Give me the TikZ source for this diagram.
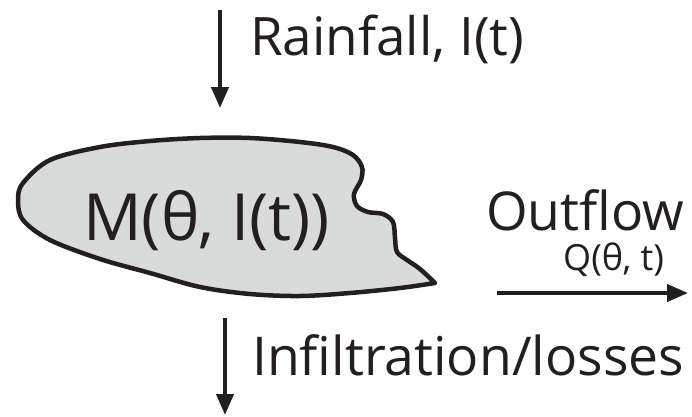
\documentclass[tikz,border=0pt]{standalone}
\usepackage{fontspec}
\setmainfont{Open Sans}
\usepackage{xcolor}
\usetikzlibrary{arrows.meta}

\definecolor{blobgray}{RGB}{217,218,218}
\definecolor{inkblack}{RGB}{35,31,32}

\tikzset{
  flowarrow/.style={draw=inkblack, line width=4pt, -{Triangle[length=21pt,width=17pt]}},
  flowlabel/.style={anchor=base west, inner sep=0pt, text=inkblack}
}

\begin{document}
\begin{tikzpicture}[x=1pt,y=-1pt]
    \useasboundingbox (0,0) rectangle (692,416);

    % Storage reservoir
    \draw[fill=blobgray, draw=inkblack, line width=4.5pt, line join=round]
      plot[smooth, tension=0.55] coordinates {
        (435,283) (400,288) (350,293) (300,296) (250,294) (200,287)
        (150,273) (100,259) (50,240) (23,220) (18,200) (23,183)
        (50,160) (100,147) (150,141) (200,138) (250,138) (300,142)
        (333,147) (353,155) (362,167) (361,180) (354,194) (357,206)
        (368,212) (383,214) (393,222) (395,238) (397,252) (407,260)
        (420,269) (435,283)} -- cycle;
    \node[flowlabel, font=\fontsize{65}{68}\selectfont] (storage) at (83,240) {M(θ, I(t))};

    % Rainfall input
    \coordinate (rainTop) at (220,10);
    \coordinate (rainTip) at (220,108);
    \draw[flowarrow] (rainTop) -- (rainTip);
    \node[flowlabel, font=\fontsize{53}{56}\selectfont] (rainfall) at (250,55) {Rainfall, I(t)};

    % Outflow
    \node[flowlabel, font=\fontsize{53.5}{56}\selectfont] (outflow) at (486,230) {Outflow};
    \node[flowlabel, font=\fontsize{36}{40}\selectfont] (outrate) at (563,270) {Q(θ, t)};
    \coordinate (outStart) at (497,293);
    \coordinate (outTip) at (688,293);
    \draw[flowarrow] (outStart) -- (outTip);

    % Infiltration
    \coordinate (infTop) at (225,318);
    \coordinate (infTip) at (225,415);
    \draw[flowarrow] (infTop) -- (infTip);
    \node[flowlabel, font=\fontsize{53.5}{56}\selectfont] (losses) at (252,375) {Infiltration/losses};
\end{tikzpicture}
\end{document}
